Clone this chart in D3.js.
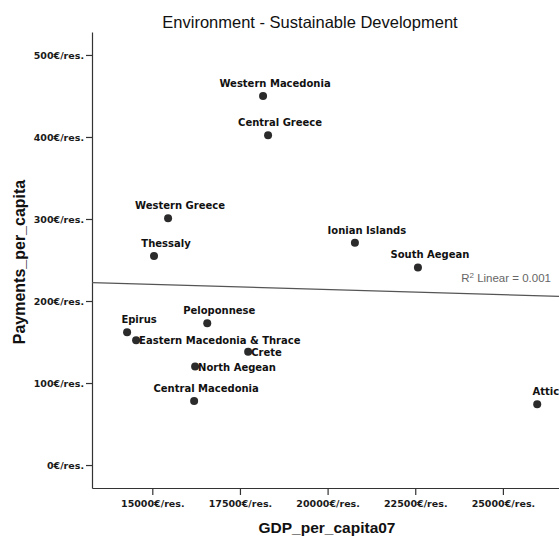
<!DOCTYPE html>
<html>
<head>
<meta charset="utf-8">
<script src="https://cdn.jsdelivr.net/npm/d3@7"></script>
<style>
  html, body { margin: 0; padding: 0; background: #fff; }
  svg { display: block; }
</style>
</head>
<body>
<svg id="chart" width="559" height="539"></svg>
<script>
// ---- data ----
const regions = ["Western Macedonia", "Central Greece", "Western Greece", "Thessaly",
  "Ionian Islands", "South Aegean", "Peloponnese", "Epirus",
  "Eastern Macedonia & Thrace", "Crete", "North Aegean", "Central Macedonia", "Attica"];
const gdpPerCapita = [18159, 18302, 15450, 15049, 20779, 22577, 16567, 14281, 14538, 17734, 16221, 16193, 25979];
const paymentsPerCapita = [450, 402, 301, 255, 271, 241, 173, 162, 152, 138, 120, 78, 74];
const xTicks = [15000, 17500, 20000, 22500, 25000];
const yTicks = [0, 100, 200, 300, 400, 500];
const labelRight = ["Eastern Macedonia & Thrace", "Crete", "North Aegean"];
const titleText = "Environment - Sustainable Development";
const xTitle = "GDP_per_capita07";
const yTitle = "Payments_per_capita";

(function () {
const svg = d3.select("#chart");
const mLeft = 92, mTop = 32, mBottom = 488, mRight = 566;

const x = d3.scaleLinear().domain([13280, 26800]).range([mLeft, mRight]);
const y = d3.scaleLinear().domain([-28, 528]).range([mBottom, mTop]);

const fmt = d => d + "€/res.";
const axisColor = "#333";

const gy = svg.append("g").attr("transform", `translate(${mLeft},0)`)
  .call(d3.axisLeft(y).tickValues(yTicks).tickFormat(fmt).tickSize(6).tickPadding(2).tickSizeOuter(0));
const gx = svg.append("g").attr("transform", `translate(0,${mBottom})`)
  .call(d3.axisBottom(x).tickValues(xTicks).tickFormat(fmt).tickSize(7).tickPadding(5).tickSizeOuter(0));

[gx, gy].forEach(g => {
  g.select(".domain").attr("stroke", axisColor).attr("stroke-width", 1.2);
  g.selectAll(".tick line").attr("stroke", axisColor).attr("stroke-width", 1.2);
  g.selectAll(".tick text")
    .attr("font-family", "'DejaVu Sans', sans-serif")
    .attr("font-weight", "bold")
    .attr("font-size", 9.5)
    .attr("fill", "#1a1a1a");
});

// Linear fit
const n = gdpPerCapita.length;
const mx = d3.mean(gdpPerCapita), my = d3.mean(paymentsPerCapita);
let sxy = 0, sxx = 0, syy = 0;
for (let i = 0; i < n; i++) {
  const dx = gdpPerCapita[i] - mx, dy = paymentsPerCapita[i] - my;
  sxy += dx * dy; sxx += dx * dx; syy += dy * dy;
}
const slope = sxy / sxx, intercept = my - slope * mx;
const r2 = (sxy * sxy) / (sxx * syy);
const [x0, x1] = x.domain();
svg.append("line")
  .attr("x1", x(x0)).attr("y1", y(intercept + slope * x0))
  .attr("x2", x(x1)).attr("y2", y(intercept + slope * x1))
  .attr("stroke", "#555").attr("stroke-width", 1.3);

const r2At = 23810;
const r2Label = svg.append("text")
  .attr("x", x(r2At)).attr("y", y(intercept + slope * r2At) - 11)
  .attr("font-family", "'Liberation Sans', Arial, sans-serif")
  .attr("font-size", 11.5).attr("fill", "#666");
r2Label.append("tspan").text("R");
r2Label.append("tspan").attr("font-size", 8).attr("dy", -4).text("2");
r2Label.append("tspan").attr("dy", 4).text(" Linear = " + d3.format(".3f")(r2));

// Points
const pts = regions.map((r, i) => ({ name: r, gdp: gdpPerCapita[i], pay: paymentsPerCapita[i] }));
svg.append("g").selectAll("circle").data(pts).join("circle")
  .attr("cx", d => x(d.gdp)).attr("cy", d => y(d.pay)).attr("r", 4)
  .attr("fill", "#2b2b2b");

svg.append("g").selectAll("text").data(pts).join("text")
  .attr("x", d => labelRight.includes(d.name) ? x(d.gdp) + 3 : x(d.gdp) + 12)
  .attr("y", d => labelRight.includes(d.name) ? y(d.pay) + 4 : y(d.pay) - 9)
  .attr("text-anchor", d => labelRight.includes(d.name) ? "start" : "middle")
  .attr("font-family", "'DejaVu Sans', sans-serif")
  .attr("font-weight", "bold").attr("font-size", 10)
  .attr("fill", "#111")
  .text(d => d.name);

// Titles
svg.append("text").attr("x", 310).attr("y", 28).attr("text-anchor", "middle")
  .attr("font-family", "'Liberation Sans', Arial, sans-serif")
  .attr("font-size", 16.5).attr("fill", "#111").text(titleText);

svg.append("text").attr("x", 327).attr("y", 533).attr("text-anchor", "middle")
  .attr("font-family", "'Liberation Sans', Arial, sans-serif")
  .attr("font-weight", "bold").attr("font-size", 15.5).attr("fill", "#111").text(xTitle);

svg.append("text").attr("transform", "translate(25,262) rotate(-90)").attr("text-anchor", "middle")
  .attr("font-family", "'Liberation Sans', Arial, sans-serif")
  .attr("font-weight", "bold").attr("font-size", 16).attr("fill", "#111").text(yTitle);
})();
</script>
</body>
</html>
